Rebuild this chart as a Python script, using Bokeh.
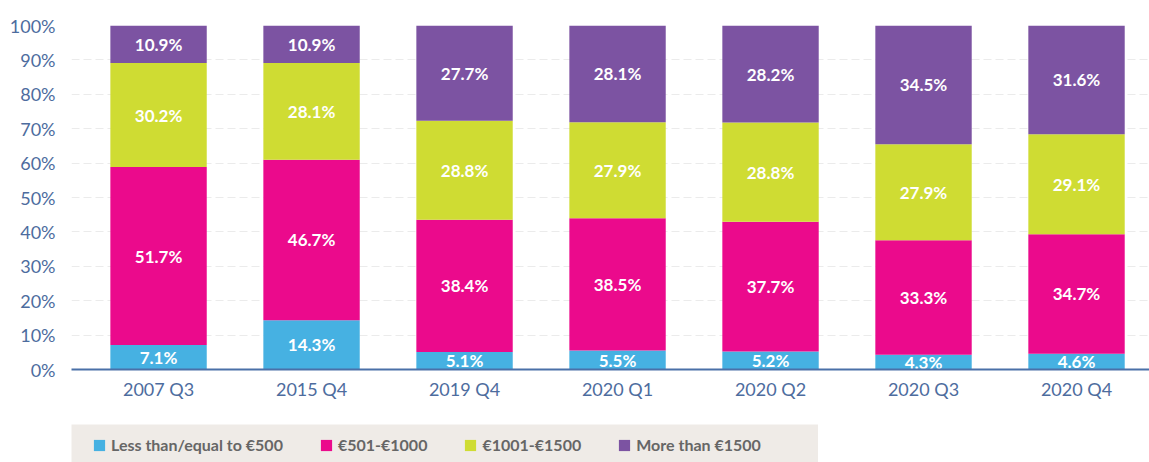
from bokeh.plotting import figure
from bokeh.models import ColumnDataSource, Range1d, FixedTicker, Legend, LegendItem
from bokeh.layouts import column
from bokeh.core.properties import value
from bokeh.embed import file_html
from bokeh.resources import INLINE

categories = ["2007 Q3", "2015 Q4", "2019 Q4", "2020 Q1", "2020 Q2", "2020 Q3", "2020 Q4"]
series_names = ["Less than/equal to €500", "€501-€1000", "€1001-€1500", "More than €1500"]
low = [7.1, 14.3, 5.1, 5.5, 5.2, 4.3, 4.6]
mid_low = [51.7, 46.7, 38.4, 38.5, 37.7, 33.3, 34.7]
mid_high = [30.2, 28.1, 28.8, 27.9, 28.8, 27.9, 29.1]
high = [10.9, 10.9, 27.7, 28.1, 28.2, 34.5, 31.6]
colors = ["#46b1e2", "#eb0a8c", "#cfdc33", "#7c53a2"]
y_ticks = [0, 10, 20, 30, 40, 50, 60, 70, 80, 90, 100]

series = [low, mid_low, mid_high, high]
keys = ["s0", "s1", "s2", "s3"]
xs = list(range(len(categories)))

# normalise each stack so that it reaches 100%
totals = [sum(v) for v in zip(*series)]
norm = [[v / t * 100 for v, t in zip(s, totals)] for s in series]

data = {"x": xs}
for k, s in zip(keys, norm):
    data[k] = s
src = ColumnDataSource(data)

p = figure(width=1149, height=424, output_backend="svg", toolbar_location=None,
           x_range=Range1d(-0.569, 6.477), y_range=Range1d(0, 100),
           min_border_left=71, min_border_top=25, min_border_bottom=55,
           min_border_right=0)
p.outline_line_color = None
p.background_fill_color = "white"

renderers = p.vbar_stack(keys, x="x", width=0.63, source=src, color=colors,
                         line_color=None)

# labels
lx, ly, lt = [], [], []
for i in xs:
    cum = 0.0
    for s_orig, s in zip(series, norm):
        lx.append(i)
        ly.append(cum + s[i] / 2)
        lt.append(f"{s_orig[i]:.1f}%")
        cum += s[i]
p.text(x=lx, y=ly, text=lt, text_align="center", text_baseline="middle",
       text_color="white", text_font=value("Lato"), text_font_style="bold",
       text_font_size="17px")

# axes
p.xaxis.ticker = FixedTicker(ticks=xs)
p.xaxis.major_label_overrides = {i: c for i, c in zip(xs, categories)}
p.xaxis.axis_line_color = "#4a70a8"
p.xaxis.axis_line_width = 2
p.xaxis.major_tick_line_color = None
p.xaxis.minor_tick_line_color = None
p.xaxis.major_tick_out = 0
p.xaxis.major_label_standoff = 8
p.xaxis.major_label_text_font = "Lato"
p.xaxis.major_label_text_font_size = "18px"
p.xaxis.major_label_text_color = "#4d6c9e"

p.yaxis.ticker = FixedTicker(ticks=y_ticks)
p.yaxis.major_label_overrides = {t: f"{t}%" for t in y_ticks}
p.yaxis.axis_line_color = None
p.yaxis.major_tick_line_color = None
p.yaxis.minor_tick_line_color = None
p.yaxis.major_tick_out = 0
p.yaxis.major_label_standoff = 16
p.yaxis.major_label_text_font = "Lato"
p.yaxis.major_label_text_font_size = "18px"
p.yaxis.major_label_text_color = "#4d6c9e"

p.xgrid.grid_line_color = None
p.ygrid.grid_line_color = "#ebebeb"
p.ygrid.grid_line_dash = "8 4"
p.ygrid.grid_line_width = 1

# legend strip
p2 = figure(width=818, height=38, output_backend="svg", toolbar_location=None,
            x_range=Range1d(0, 1), y_range=Range1d(0, 1),
            min_border_left=71, min_border_top=0, min_border_bottom=0,
            min_border_right=0)
p2.outline_line_color = None
p2.background_fill_color = "#efebe7"
p2.border_fill_color = "white"
p2.axis.visible = False
p2.grid.grid_line_color = None
# off-screen proxies that only supply the legend swatches
dummies = [p2.vbar(x=[-10], top=[-10], bottom=[-11], width=0.1, color=c, line_color=None)
           for c in colors]

lg = Legend(items=[LegendItem(label=n, renderers=[r]) for n, r in zip(series_names, dummies)])
lg.orientation = "horizontal"
lg.location = (21, 8)
lg.background_fill_alpha = 0
lg.border_line_color = None
lg.padding = 0
lg.spacing = 36
lg.margin = 0
lg.glyph_width = 14
lg.glyph_height = 14
lg.label_height = 14
lg.label_standoff = 5
lg.label_text_font = "Lato"
lg.label_text_font_style = "bold"
lg.label_text_font_size = "16px"
lg.label_text_color = "#666666"
p2.add_layout(lg, "center")

open("out.html", "w").write(file_html(column(p, p2), INLINE))
